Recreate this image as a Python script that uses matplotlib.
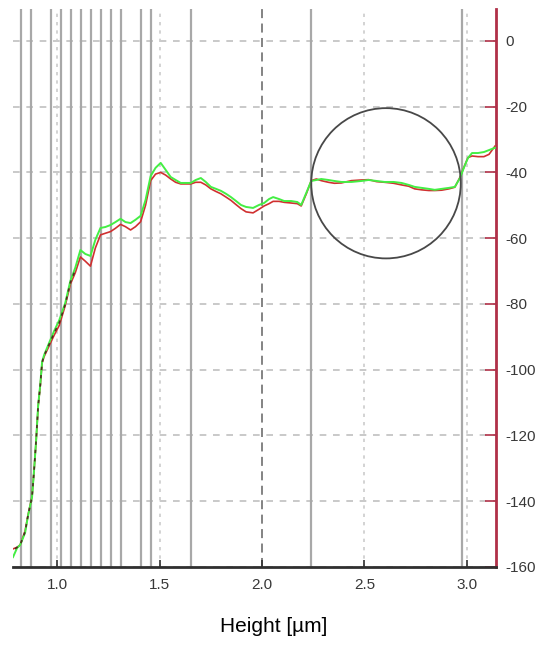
import numpy as np
import matplotlib
matplotlib.use('Agg')
import matplotlib.pyplot as plt
from matplotlib.patches import Ellipse

plt.rcParams['font.family'] = ['Liberation Sans', 'DejaVu Sans']

# x positions (µm) shared by both profiles
height = [0.784, 0.804, 0.819, 0.843, 0.858, 0.877, 0.887, 0.897, 0.907, 0.917,
          0.926, 0.936, 0.966, 0.985, 1.010, 1.039, 1.064, 1.088, 1.113, 1.137,
          1.162, 1.186, 1.211, 1.235, 1.260, 1.284, 1.309, 1.333, 1.358, 1.382,
          1.407, 1.431, 1.456, 1.480, 1.505, 1.529, 1.554, 1.578, 1.603, 1.627,
          1.652, 1.676, 1.701, 1.725, 1.750, 1.775, 1.799, 1.824, 1.848, 1.873,
          1.897, 1.922, 1.956, 1.985, 2.010, 2.034, 2.054, 2.083, 2.108, 2.142,
          2.172, 2.191, 2.216, 2.240, 2.265, 2.289, 2.324, 2.353, 2.387, 2.436,
          2.485, 2.520, 2.559, 2.598, 2.642, 2.681, 2.716, 2.745, 2.779, 2.814,
          2.843, 2.877, 2.912, 2.941, 2.966, 2.985, 3.005, 3.025, 3.054, 3.083,
          3.108, 3.137]

green = [-157.0, -154.2, -153.3, -149.6, -144.2, -138.7, -130.5, -121.4, -110.7, -104.6,
         -97.6, -95.5, -91.0, -88.2, -84.9, -79.7, -73.0, -69.0, -63.6, -64.8,
         -65.4, -60.5, -56.9, -56.6, -56.0, -55.1, -54.1, -55.1, -55.4, -54.4,
         -53.2, -48.4, -41.1, -38.6, -37.1, -39.2, -41.4, -42.3, -43.2, -43.2,
         -43.2, -42.3, -41.7, -42.9, -44.4, -45.0, -45.6, -46.5, -47.5, -48.7,
         -49.9, -50.5, -50.8, -49.9, -49.3, -48.1, -47.5, -48.1, -48.7, -48.7,
         -49.0, -49.9, -46.2, -42.6, -42.3, -42.0, -42.3, -42.6, -42.9, -42.9,
         -42.6, -42.3, -42.6, -42.9, -42.9, -43.2, -43.8, -44.4, -44.7, -45.0,
         -45.3, -45.0, -44.7, -44.4, -41.7, -38.6, -35.6, -34.1, -34.1, -33.8,
         -33.2, -32.5]

red = [-154.5, -154.0, -153.3, -149.0, -144.0, -138.5, -130.5, -121.5, -111.0, -105.0,
       -98.0, -96.0, -92.0, -89.5, -86.5, -80.5, -74.0, -70.5, -65.7, -67.0,
       -68.5, -63.0, -59.0, -58.5, -58.0, -57.0, -55.8, -56.5, -57.5, -56.5,
       -55.0, -50.0, -42.5, -40.5, -40.0, -40.8, -42.0, -43.0, -43.5, -43.5,
       -43.5, -43.0, -43.0, -43.8, -45.0, -45.8, -46.5, -47.5, -48.5, -49.8,
       -51.0, -52.0, -52.3, -51.2, -50.2, -49.5, -48.8, -48.8, -49.1, -49.3,
       -49.5, -50.2, -46.5, -42.5, -42.0, -42.5, -43.0, -43.3, -43.2, -42.5,
       -42.3, -42.2, -42.8, -43.0, -43.3, -43.8, -44.2, -45.0, -45.3, -45.5,
       -45.5, -45.4, -45.0, -44.5, -41.5, -38.5, -35.5, -35.0, -35.2, -35.2,
       -34.5, -32.0]

# dark dashed trace visible on the steep part
dark_x = [0.794, 0.819, 0.843, 0.858, 0.877, 0.887, 0.897, 0.907, 0.917, 0.926,
          0.936, 0.966, 0.985, 1.010, 1.039, 1.064, 1.088]
dark_y = [-154.5, -153.3, -149.3, -144.1, -138.6, -130.5, -121.4, -110.8, -104.8, -97.8,
          -95.7, -91.5, -88.8, -85.7, -80.1, -73.5, -69.7]

# vertical marker lines
markers = [0.822, 0.871, 0.969, 1.018, 1.067, 1.116, 1.165, 1.214, 1.260, 1.309,
           1.410, 1.456, 1.655, 2.240, 2.974]

x_ticks = [1.0, 1.5, 2.0, 2.5, 3.0]
y_ticks = [0, -20, -40, -60, -80, -100, -120, -140, -160]

fig = plt.figure(figsize=(5.48, 6.52), dpi=100)
ax = fig.add_axes([13 / 548, 1 - 567 / 652, (496 - 13) / 548, (567 - 9) / 652])

ax.set_xlim(0.784, 3.142)
ax.set_ylim(-160, 9.7)

# grid
for yv in y_ticks:
    ax.axhline(yv, color='#c0c0c0', lw=1.2, ls=(0, (4, 4)), zorder=1)
for xv in x_ticks:
    if xv == 2.0:
        ax.axvline(xv, color='#7a7a7a', lw=1.3, ls=(0, (5, 3)), zorder=1)
    else:
        ax.axvline(xv, color='#cccccc', lw=1.2, ls=(0, (2, 3)), zorder=1)

for xv in markers:
    ax.axvline(xv, color='#a8a8a8', lw=1.6, zorder=2)

ax.plot(height, red, color='#d03030', lw=1.2, zorder=3)
ax.plot(height, green, color='#44ee44', lw=1.4, zorder=4)
ax.plot(dark_x, dark_y, color='#4a3020', lw=1.2, ls=(0, (2, 3)), zorder=5)

circle = Ellipse((2.605, -43.3), width=0.73, height=45.7, fill=False,
                 edgecolor='#484848', lw=1.3, zorder=6)
ax.add_patch(circle)

for s in ['top', 'left']:
    ax.spines[s].set_visible(False)
ax.spines['bottom'].set_color('#303030')
ax.spines['bottom'].set_linewidth(2)
ax.spines['right'].set_color('#b03048')
ax.spines['right'].set_linewidth(2)

ax.yaxis.tick_right()
ax.set_yticks(y_ticks)
ax.set_yticklabels([str(v) for v in y_ticks])
ax.set_xticks(x_ticks)
ax.set_xticklabels([f'{v:.1f}' for v in x_ticks])
ax.tick_params(axis='y', direction='in', length=8, width=1.2, color='#b03048',
               labelcolor='#383838', labelsize=11, pad=7)
ax.tick_params(axis='x', direction='in', length=5, width=1.2, color='#303030',
               labelcolor='#383838', labelsize=11, pad=8)

fig.text(274 / 548, 1 - 627 / 652, 'Height [µm]', ha='center', va='center',
         fontsize=15, color='black')

fig.savefig('out.png', dpi=100)
